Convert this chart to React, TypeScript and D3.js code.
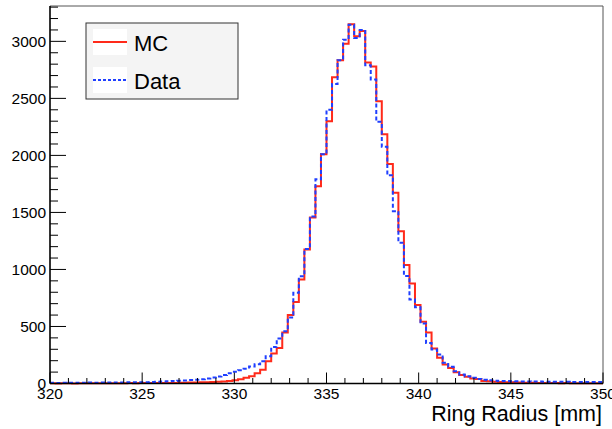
import * as d3 from "d3";

const W = 612;
const H = 429;

// histogram range: 100 bins of 0.3 mm between 320 and 350
const X_MIN = 320;
const X_MAX = 350;
const N_BINS = 100;

const mcCounts = [
  2, 1, 2, 2, 1, 2, 2, 3, 2, 3,
  3, 3, 2, 3, 4, 3, 4, 4, 5, 5,
  4, 5, 5, 6, 7, 8, 9, 10, 12, 14,
  16, 18, 22, 28, 38, 50, 64, 90, 120, 195,
  262, 312, 448, 600, 715, 912, 1175, 1455, 1730, 2010,
  2300, 2685, 2835, 2980, 3150, 3045, 3090, 2815, 2780, 2475,
  2185, 1925, 1673, 1336, 1038, 876, 688, 542, 447, 307,
  225, 167, 137, 99, 74, 59, 44, 40, 22, 20,
  16, 13, 11, 10, 8, 7, 6, 6, 5, 5,
  4, 4, 3, 4, 3, 3, 2, 3, 2, 2,
];

const dataCounts = [
  6, 5, 7, 6, 6, 7, 6, 8, 7, 8,
  8, 9, 8, 9, 10, 10, 11, 12, 13, 15,
  17, 19, 22, 24, 27, 30, 33, 38, 44, 52,
  62, 75, 90, 102, 116, 130, 150, 168, 195, 240,
  320, 395, 458, 578, 795, 940, 1180, 1465, 1790, 2010,
  2400, 2625, 2835, 3015, 3145, 3030, 3100, 2790, 2665, 2295,
  2075, 1825, 1510, 1235, 942, 737, 668, 526, 355, 298,
  254, 181, 146, 108, 79, 64, 50, 40, 33, 28,
  25, 22, 21, 20, 19, 18, 18, 17, 17, 16,
  16, 15, 15, 15, 14, 14, 14, 13, 13, 13,
];

const xTicks = [320, 325, 330, 335, 340, 345, 350];
const yTicks = [0, 500, 1000, 1500, 2000, 2500, 3000];

const FONT = "'Liberation Sans', Arial, Helvetica, sans-serif";
const RED = "#ff2a1a";
const BLUE = "#1f3fff";

const left = 50;
const right = 603;
const top = 6;
const bottom = 383.5;

export default function App() {
  const x = d3.scaleLinear().domain([X_MIN, X_MAX]).range([left, right]);
  const y = d3.scaleLinear().domain([0, 3310]).range([bottom, top]);

  const binW = (X_MAX - X_MIN) / N_BINS;

  const stepPath = (counts: number[]) => {
    const pts: [number, number][] = counts.map((c, i) => [X_MIN + i * binW, c]);
    pts.push([X_MAX, counts[counts.length - 1]]);
    return d3
      .line<[number, number]>()
      .x((d) => x(d[0]))
      .y((d) => y(d[1]))
      .curve(d3.curveStepAfter)(pts) as string;
  };

  const xMinor = d3.range(X_MIN, X_MAX + 0.01, 1).filter((v) => v % 5 !== 0);
  const yMinor = d3.range(0, 3301, 100).filter((v) => v % 500 !== 0);

  return (
    <svg
      width={W}
      height={H}
      style={{ position: "absolute", left: 0, top: 0, background: "#fff" }}
    >
      {/* frame */}
      <line x1={left} x2={right} y1={top} y2={top} stroke="#555" strokeWidth={1} />
      <line x1={right} x2={right} y1={top} y2={bottom} stroke="#555" strokeWidth={1} />

      {/* histograms */}
      <path d={stepPath(mcCounts)} fill="none" stroke={RED} strokeWidth={2} />
      <path
        d={stepPath(dataCounts)}
        fill="none"
        stroke={BLUE}
        strokeWidth={2}
        strokeDasharray="4,2.5"
      />

      {/* y axis */}
      <line x1={left} x2={left} y1={top} y2={bottom} stroke="#000" strokeWidth={1.6} />
      {yTicks.map((t) => (
        <g key={"y" + t}>
          <line x1={left} x2={left + 16} y1={y(t)} y2={y(t)} stroke="#000" strokeWidth={1} />
          <text
            x={46}
            y={y(t) + 5.5}
            textAnchor="end"
            fontFamily={FONT}
            fontSize={15.5}
            fill="#000"
          >
            {t}
          </text>
        </g>
      ))}
      {yMinor.map((t) => (
        <line key={"ym" + t} x1={left} x2={left + 8} y1={y(t)} y2={y(t)} stroke="#000" strokeWidth={1} />
      ))}

      {/* x axis */}
      <line x1={left} x2={right} y1={bottom} y2={bottom} stroke="#000" strokeWidth={1.6} />
      {xTicks.map((t) => (
        <g key={"x" + t}>
          <line x1={x(t)} x2={x(t)} y1={bottom} y2={bottom - 11} stroke="#000" strokeWidth={1} />
          <text
            x={x(t)}
            y={399}
            textAnchor="middle"
            fontFamily={FONT}
            fontSize={15.5}
            fill="#000"
          >
            {t}
          </text>
        </g>
      ))}
      {xMinor.map((t) => (
        <line key={"xm" + t} x1={x(t)} x2={x(t)} y1={bottom} y2={bottom - 5.5} stroke="#000" strokeWidth={1} />
      ))}
      <text
        x={602}
        y={421}
        textAnchor="end"
        fontFamily={FONT}
        fontSize={21.5}
        fill="#000"
      >
        Ring Radius [mm]
      </text>

      {/* legend */}
      <rect x={86} y={23} width={152} height={76} fill="#f4f4f4" stroke="#333" strokeWidth={1} />
      <rect x={93} y={29} width={34} height={26} fill="#fff" />
      <rect x={93} y={67} width={34} height={26} fill="#fff" />
      <line x1={93} x2={127} y1={42} y2={42} stroke={RED} strokeWidth={2} />
      <line x1={93} x2={127} y1={80} y2={80} stroke={BLUE} strokeWidth={2} strokeDasharray="3,2" />
      <text x={134} y={51} fontFamily={FONT} fontSize={22} fill="#000">
        MC
      </text>
      <text x={134} y={89} fontFamily={FONT} fontSize={22} fill="#000">
        Data
      </text>
    </svg>
  );
}
